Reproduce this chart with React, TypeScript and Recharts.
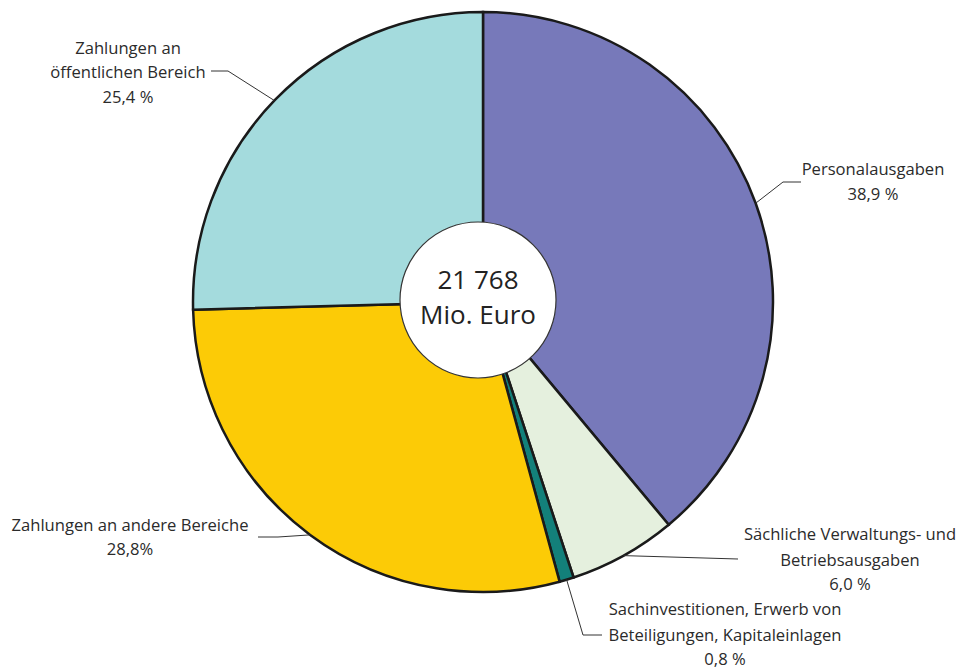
import { Pie, PieChart, Cell } from "recharts";

const categories = [
  "Personalausgaben",
  "Sächliche Verwaltungs- und Betriebsausgaben",
  "Sachinvestitionen, Erwerb von Beteiligungen, Kapitaleinlagen",
  "Zahlungen an andere Bereiche",
  "Zahlungen an öffentlichen Bereich",
];
const shares = [38.9, 6.0, 0.8, 28.8, 25.4];
const labelLines = [
  ["Personalausgaben", "38,9 %"],
  ["Sächliche Verwaltungs- und", "Betriebsausgaben", "6,0 %"],
  ["Sachinvestitionen, Erwerb von", "Beteiligungen, Kapitaleinlagen", "0,8 %"],
  ["Zahlungen an andere Bereiche", "28,8%"],
  ["Zahlungen an", "öffentlichen Bereich", "25,4 %"],
];
const totalLines = ["21 768", "Mio. Euro"];

const COLORS = ["#7779BA", "#E5F0DE", "#13807A", "#FCCB06", "#A4DBDD"];

const chartData = categories.map((name, i) => ({ name, value: shares[i] }));

// label layout, offsets from the pie centre
const LAYOUT = [
  { angle: null, elbow: [300, -120], end: [318, -120], tx: 390, ty: [-134, -109] },
  { angle: null, elbow: null, end: [255, 257], tx: 367, ty: [231, 257, 281] },
  { angle: null, elbow: [100, 333], end: [119, 333], tx: 242, ty: [306, 332, 356] },
  { angle: null, elbow: [-205, 235], end: [-225, 235], tx: -353, ty: [222, 246] },
  { angle: 136, elbow: [-255, -231], end: [-272, -231], tx: -355, ty: [-255, -231, -206] },
];

const RAD = Math.PI / 180;
const FONT = "'Open Sans', sans-serif";

const renderLabel = (props: any) => {
  const { cx, cy, midAngle, outerRadius, index } = props;
  const cfg = LAYOUT[index];
  const a = cfg.angle ?? midAngle;
  const sx = cx + outerRadius * Math.cos(a * RAD);
  const sy = cy - outerRadius * Math.sin(a * RAD);
  const pts = [[sx, sy]];
  if (cfg.elbow) pts.push([cx + cfg.elbow[0], cy + cfg.elbow[1]]);
  pts.push([cx + cfg.end[0], cy + cfg.end[1]]);
  return (
    <g key={`lbl-${index}`}>
      <polyline
        points={pts.map((p) => p.join(",")).join(" ")}
        fill="none"
        stroke="#333"
        strokeWidth={1}
      />
      {labelLines[index].map((line, j) => (
        <text
          key={j}
          x={cx + cfg.tx}
          y={cy + cfg.ty[j]}
          textAnchor="middle"
          dominantBaseline="central"
          fill="#2b2b2b"
          fontSize={16.6}
          fontFamily={FONT}
        >
          {line}
        </text>
      ))}
    </g>
  );
};

const renderCenter = (props: any) => {
  const { cx, cy, outerRadius } = props;
  return (
    <g key="center">
      <circle cx={cx} cy={cy} r={outerRadius} fill="#fff" stroke="#333" strokeWidth={1.2} />
      <text x={cx} y={cy - 21} textAnchor="middle" dominantBaseline="central" fill="#222" fontSize={26} fontFamily={FONT}>
        {totalLines[0]}
      </text>
      <text x={cx} y={cy + 14} textAnchor="middle" dominantBaseline="central" fill="#222" fontSize={26} fontFamily={FONT}>
        {totalLines[1]}
      </text>
    </g>
  );
};

export default function App() {
  return (
    <div style={{ position: "absolute", left: 0, top: 0, width: 966, height: 668, background: "#fff" }}>
      <PieChart width={966} height={668} margin={{ top: 0, right: 0, bottom: 0, left: 0 }}>
        <Pie
          data={chartData}
          dataKey="value"
          nameKey="name"
          cx={483}
          cy={302}
          outerRadius={290}
          startAngle={90}
          endAngle={-270}
          stroke="#1a1a1a"
          strokeWidth={2.5}
          label={renderLabel}
          labelLine={false}
          isAnimationActive={false}
        >
          {chartData.map((entry, i) => (
            <Cell key={entry.name} fill={COLORS[i]} />
          ))}
        </Pie>
        <Pie
          data={[{ name: "total", value: 1 }]}
          dataKey="value"
          cx={478}
          cy={300}
          outerRadius={78}
          startAngle={90}
          endAngle={-270}
          fill="#fff"
          stroke="none"
          label={renderCenter}
          labelLine={false}
          isAnimationActive={false}
        />
      </PieChart>
    </div>
  );
}
